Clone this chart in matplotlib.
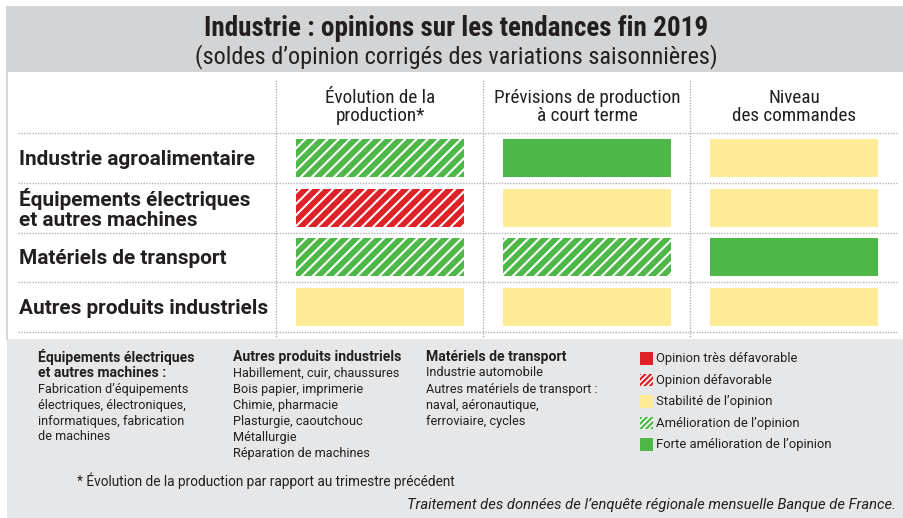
import matplotlib
matplotlib.use("Agg")
import matplotlib.pyplot as plt
from matplotlib import font_manager
from matplotlib.patches import Rectangle
import numpy as np


def pick(cands):
    for cand in cands:
        try:
            font_manager.findfont(font_manager.FontProperties(family=cand), fallback_to_default=False)
            return cand
        except Exception:
            pass
    return "DejaVu Sans"


narrow = pick(["Roboto Condensed", "Liberation Sans Narrow"])
wide = pick(["Roboto", "Liberation Sans"])
plt.rcParams['font.family'] = [narrow, 'DejaVu Sans']

TXT = '#231f20'

title = "Industrie : opinions sur les tendances fin 2019"
subtitle = "(soldes d\u2019opinion corrigés des variations saisonnières)"

columns = ["Évolution de la\nproduction*", "Prévisions de production\nà court terme", "Niveau\ndes commandes"]
rows = ["Industrie agroalimentaire", "Équipements électriques\net autres machines",
        "Matériels de transport", "Autres produits industriels"]

# opinion codes: 0 tres defavorable, 1 defavorable, 2 stabilite, 3 amelioration, 4 forte amelioration
evolution = [3, 1, 3, 2]
previsions = [4, 2, 3, 2]
commandes = [2, 2, 4, 2]

legend_labels = ["Opinion très défavorable", "Opinion défavorable", "Stabilité de l\u2019opinion",
                 "Amélioration de l\u2019opinion", "Forte amélioration de l\u2019opinion"]
legend_colors = ['#df2128', '#df2128', '#feea97', '#4db848', '#4db848']
legend_hatched = [False, True, False, True, False]

notes_equip = ["Fabrication d\u2019équipements", "électriques, électroniques,",
               "informatiques, fabrication", "de machines"]
notes_autres = ["Habillement, cuir, chaussures", "Bois papier, imprimerie", "Chimie, pharmacie",
                "Plasturgie, caoutchouc", "Métallurgie", "Réparation de machines"]
notes_transport = ["Industrie automobile", "Autres matériels de transport :",
                   "naval, aéronautique,", "ferroviaire, cycles"]
footnote = "* Évolution de la production par rapport au trimestre précédent"
source = "Traitement des données de l\u2019enquête régionale mensuelle Banque de France."

W, H = 904, 518
fig = plt.figure(figsize=(W / 100, H / 100), dpi=100)
ax = fig.add_axes([0, 0, 1, 1])
ax.set_xlim(0, W)
ax.set_ylim(H, 0)
ax.axis('off')
renderer = fig.canvas.get_renderer()


def fit(t, target, others=()):
    # scale font so the widest line is `target` pixels wide
    for _ in range(2):
        w = t.get_window_extent(renderer=renderer).width
        t.set_fontsize(t.get_fontsize() * target / w)
    for o in others:
        o.set_fontsize(t.get_fontsize())


# backgrounds
ax.add_patch(Rectangle((7, 8), 897, 64, color='#d3d4d6', lw=0))
ax.add_patch(Rectangle((7, 339), 897, 179, color='#e6e7e9', lw=0))
ax.plot([7, 904], [7, 7], color='#cfd0d2', lw=1.2)
ax.plot([7, 7], [7, 339], color='#cfd0d2', lw=1.2)

t1 = ax.text(456, 29, title, ha='center', va='center', fontsize=19, weight='bold', color=TXT)
t2 = ax.text(456, 57, subtitle, ha='center', va='center', fontsize=17, color=TXT)
fit(t1, 504)
fit(t2, 521)

# table axes: columns in x units, rows in y units
x_left, x_right = 276.5, 897.5
y_top, y_bot = 133.2, 331.8
axt = fig.add_axes([x_left / W, 1 - y_bot / H, (x_right - x_left) / W, (y_bot - y_top) / H])
axt.set_xlim(-0.5, 2.5)
axt.set_ylim(3.5, -0.5)
axt.axis('off')
pitch_x = (x_right - x_left) / 3
pitch_y = (y_bot - y_top) / 4

plt.rcParams['hatch.linewidth'] = 1.5
fills = {0: '#df2128', 1: '#df2128', 2: '#feea97', 3: '#4db848', 4: '#4db848'}
y_idx = np.arange(len(rows))
for j, vals in enumerate([evolution, previsions, commandes]):
    bars = axt.bar(np.full(len(vals), j), 0.77, bottom=y_idx - 0.385, width=0.81,
                   color=[fills[v] for v in vals], edgecolor='white', linewidth=0)
    for b, v in zip(bars, vals):
        if v in (1, 3):
            b.set_hatch('///')

# grid lines
gx0 = -0.5 + (18 - x_left) / pitch_x
axt.hlines(np.arange(-0.5, 4), gx0, 2.5, colors='#b4b4b4', linestyles=(0, (1, 1)), lw=1, clip_on=False)
gy0 = -0.5 + (80 - y_top) / pitch_y
gy1 = 3.5 + (338 - y_bot) / pitch_y
axt.vlines([-0.5, 0.5, 1.5], gy0, gy1, colors='#b4b4b4', linestyles=(0, (1, 1)), lw=1, clip_on=False)

hy = -0.5 + (107 - y_top) / pitch_y
heads = [axt.text(j, hy, c, ha='center', va='center', fontsize=13.5, color=TXT,
                  linespacing=1.05, clip_on=False) for j, c in enumerate(columns)]
fit(heads[1], 187, heads)

lx = -0.5 + (19 - x_left) / pitch_x
labs = [axt.text(lx, i + 0.03, r, ha='left', va='center', fontsize=15, weight='bold', color=TXT,
                 family=[wide, 'DejaVu Sans'], linespacing=1.08, clip_on=False)
        for i, r in enumerate(rows)]
fit(labs[0], 236, labs)

# notes
bold_t, reg_t = [], []


def block(x, heads, lines, y0=357, step=16):
    y = y0
    for h in heads:
        bold_t.append(ax.text(x, y, h, ha='left', va='center', fontsize=9.5, weight='bold',
                              family=[wide, 'DejaVu Sans'], color=TXT))
        y += step
    for l in lines:
        reg_t.append(ax.text(x, y, l, ha='left', va='center', fontsize=9.5,
                             family=[wide, 'DejaVu Sans'], color=TXT))
        y += step


block(38, ["Équipements électriques", "et autres machines :"], notes_equip)
block(233, ["Autres produits industriels"], notes_autres)
block(426, ["Matériels de transport"], notes_transport)
fit(bold_t[3], 140, bold_t)
fit(reg_t[4], 167, reg_t)

# legend
plt.rcParams['hatch.linewidth'] = 1.2
leg_t = []
for k, (lab, col, hat) in enumerate(zip(legend_labels, legend_colors, legend_hatched)):
    y = 352 + 21.5 * k
    p = Rectangle((640, y), 12.7, 12.7, facecolor=col, edgecolor='white', lw=0,
                  hatch='//////' if hat else None)
    ax.add_patch(p)
    leg_t.append(ax.text(656, y + 6.8, lab, ha='left', va='center', fontsize=9.5,
                         family=[wide, 'DejaVu Sans'], color=TXT))
fit(leg_t[4], 175, leg_t)

fn = ax.text(77, 481, footnote, ha='left', va='center', fontsize=9.5,
             family=[wide, 'DejaVu Sans'], color=TXT)
fit(fn, 378)
src = ax.text(896, 505, source, ha='right', va='center', fontsize=9.5, style='italic',
              family=[wide, 'DejaVu Sans'], color=TXT)
fit(src, 486)

fig.savefig('out.png', dpi=100)
